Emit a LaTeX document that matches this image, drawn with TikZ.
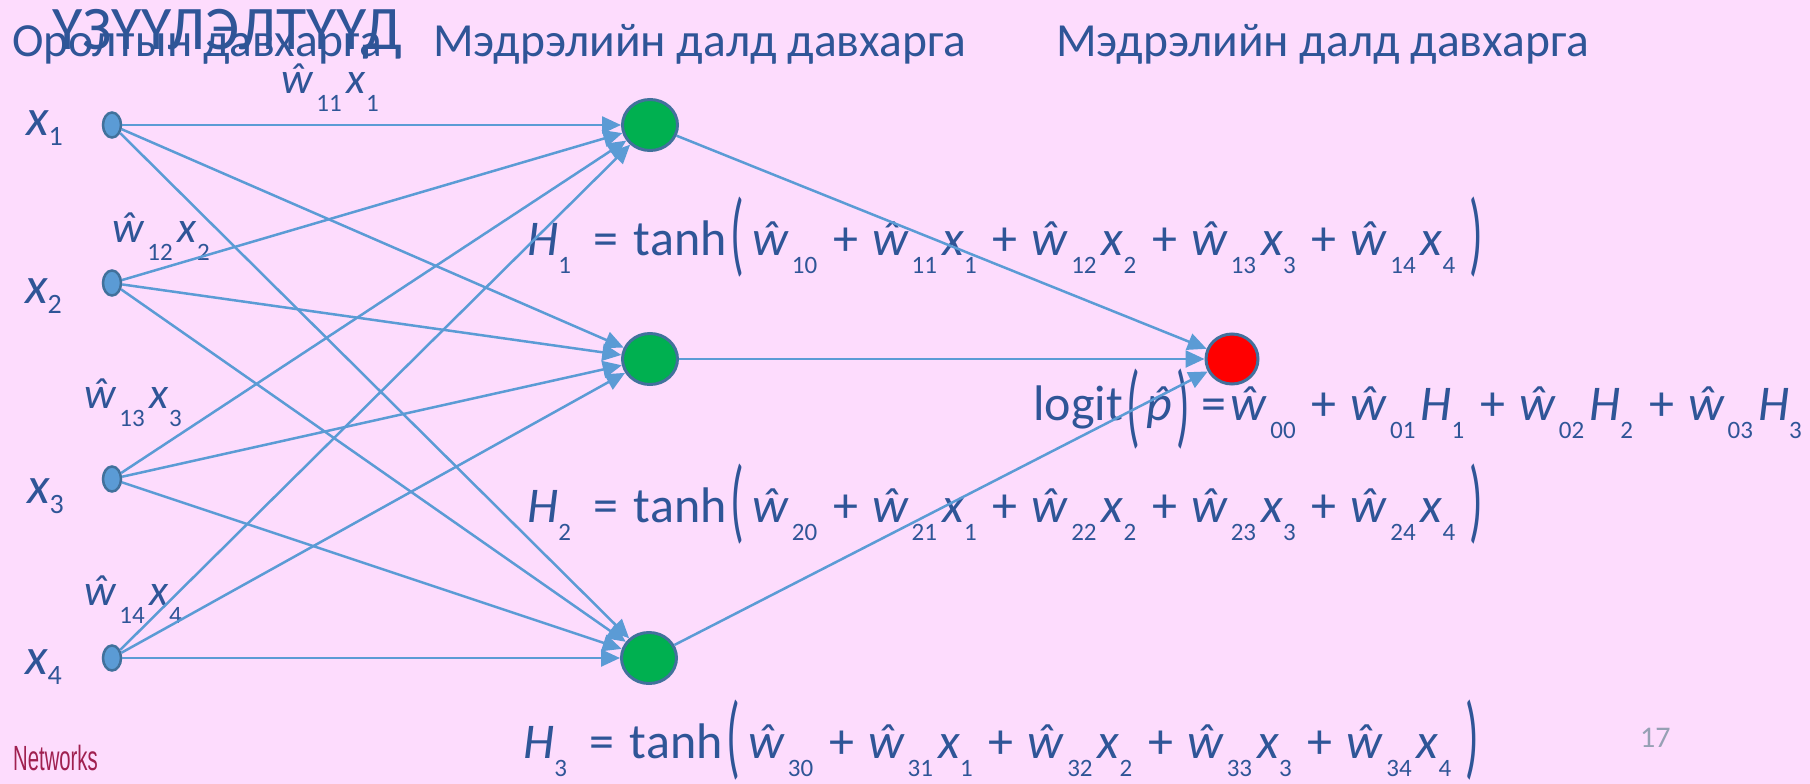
\documentclass[tikz,border=0pt]{standalone}
\usepackage{fontspec}
\setmainfont{Carlito}
\newfontfamily\nwfont{Liberation Sans}
\usetikzlibrary{arrows.meta, positioning, shapes.geometric}
\definecolor{bgpink}{RGB}{253,220,253}
\definecolor{txtblue}{RGB}{47,85,151}
\definecolor{edgeblue}{RGB}{91,155,213}
\definecolor{rimblue}{RGB}{65,113,156}
\definecolor{nodegreen}{RGB}{0,176,80}
\definecolor{netred}{RGB}{160,32,80}
\definecolor{pagegray}{RGB}{150,160,180}
% subscripts, hats, big parentheses
\newcommand\dn[1]{\raisebox{-18pt}{\fontsize{25}{25}\selectfont #1}}
\newcommand\dnx[1]{\raisebox{-10pt}{\fontsize{28}{28}\selectfont #1}}
\newcommand\wh[1]{\textit{ŵ}\kern3pt\dn{#1}}
\newcommand\phat{\textit{p}\llap{\textit{ˆ}\kern1pt}}
\newcommand\pl{\hspace{16pt}+\hspace{14pt}}
\newcommand\bigp[2]{\raisebox{#1}{\scalebox{0.9}[1.85]{#2}}}
\newcommand\heq[1]{\textit{H}\dn{#1}\hspace{22pt}=\hspace{16pt}tanh\hspace{4pt}\bigp{-9pt}{(}\hspace{8pt}%
  \wh{#10}\pl\wh{#11}\kern5pt\textit{x}\dn{1}\pl\wh{#12}\kern5pt\textit{x}\dn{2}\pl
  \wh{#13}\kern5pt\textit{x}\dn{3}\pl\wh{#14}\kern5pt\textit{x}\dn{4}\hspace{14pt}\bigp{-9pt}{)}}
\begin{document}
\begin{tikzpicture}[x=1pt, y=-1pt,
    lbl/.style = {anchor=base west, inner sep=0pt, text=txtblue},
    hdr/.style = {lbl, font=\fontsize{47.5}{47.5}\selectfont},
    eqn/.style = {lbl, font=\fontsize{50}{50}\selectfont},
    wlbl/.style = {lbl, font=\fontsize{44}{44}\selectfont},
    xlbl/.style = {lbl, font=\fontsize{52}{52}\selectfont\itshape},
    inp/.style = {ellipse, draw=rimblue, line width=2.5pt, fill=edgeblue,
                  minimum width=18pt, minimum height=25pt, inner sep=0pt},
    hid/.style = {ellipse, draw=rimblue, line width=3pt, fill=nodegreen,
                  minimum width=55pt, minimum height=51pt, inner sep=0pt},
    outp/.style = {hid, fill=red, minimum width=52pt, minimum height=50pt},
    wire/.style = {draw=edgeblue, line width=2.5pt, -{Triangle[length=19pt,width=17pt]}}
  ]
  \fill[bgpink] (0,0) rectangle (1810,784);
  \useasboundingbox (0,0) rectangle (1810,784);
  % headings
  \node[hdr] (ttl) at (52,50) {\fontsize{62}{62}\selectfont ҮЗҮҮЛЭЛТҮҮД};
  \node[hdr] (hin) at (12,57) {Оролтын давхарга};
  \node[hdr] (hhid) at (433,57) {Мэдрэлийн далд давхарга};
  \node[hdr] (hout) at (1056,57) {Мэдрэлийн далд давхарга};
  % input labels
  \node[xlbl] (lx1) at (26,135) {x\dnx{\upshape 1}};
  \node[xlbl] (lx2) at (25,303) {x\dnx{\upshape 2}};
  \node[xlbl] (lx3) at (27,503) {x\dnx{\upshape 3}};
  \node[xlbl] (lx4) at (25,674) {x\dnx{\upshape 4}};
  % weight labels
  \node[wlbl] (w11) at (281,93) {\wh{11}\kern5pt\textit{x}\dn{1}};
  \node[wlbl] (w12) at (112,242) {\wh{12}\kern5pt\textit{x}\dn{2}};
  \node[wlbl] (w13) at (84,408) {\wh{13}\kern5pt\textit{x}\dn{3}};
  \node[wlbl] (w14) at (84,605) {\wh{14}\kern5pt\textit{x}\dn{4}};
  % equations
  \node[eqn] (eq1) at (527,255) {\heq{1}};
  \node[eqn] (eq2) at (527,522) {\heq{2}};
  \node[eqn] (eq3) at (523,758) {\heq{3}};
  \node[eqn] (eqo) at (1033,420) {logit\hspace{4pt}\bigp{-16pt}{(}\hspace{6pt}\phat\hspace{4pt}\bigp{-16pt}{)}\hspace{12pt}=\hspace{4pt}%
    \wh{00}\pl\wh{01}\kern5pt\textit{H}\dn{1}\pl\wh{02}\kern5pt\textit{H}\dn{2}\pl\wh{03}\kern5pt\textit{H}\dn{3}};
  % footer
  \node[anchor=base west, inner sep=0pt, text=netred] (nw) at (13,770)
    {\scalebox{0.58}[1]{\nwfont\fontsize{35}{35}\selectfont Networks}};
  \node[anchor=base west, inner sep=0pt, text=pagegray, font=\fontsize{30}{30}\selectfont] (pg) at (1640,747) {17};
  % neurons
  \node[inp] (in1) at (112,125) {};
  \node[inp] (in2) at (112,283) {};
  \node[inp] (in3) at (112,479) {};
  \node[inp] (in4) at (112,658) {};
  \node[hid] (hd1) at (650,125) {};
  \node[hid] (hd2) at (650,359) {};
  \node[hid] (hd3) at (649,658) {};
  \node[outp] (out) at (1232,359) {};
  % connections
  \foreach \i in {1,...,4}
    \foreach \j in {1,2,3}
      \draw[wire] (in\i) -- (hd\j);
  \foreach \j in {1,2,3}
    \draw[wire] (hd\j) -- (out);
\end{tikzpicture}
\end{document}
